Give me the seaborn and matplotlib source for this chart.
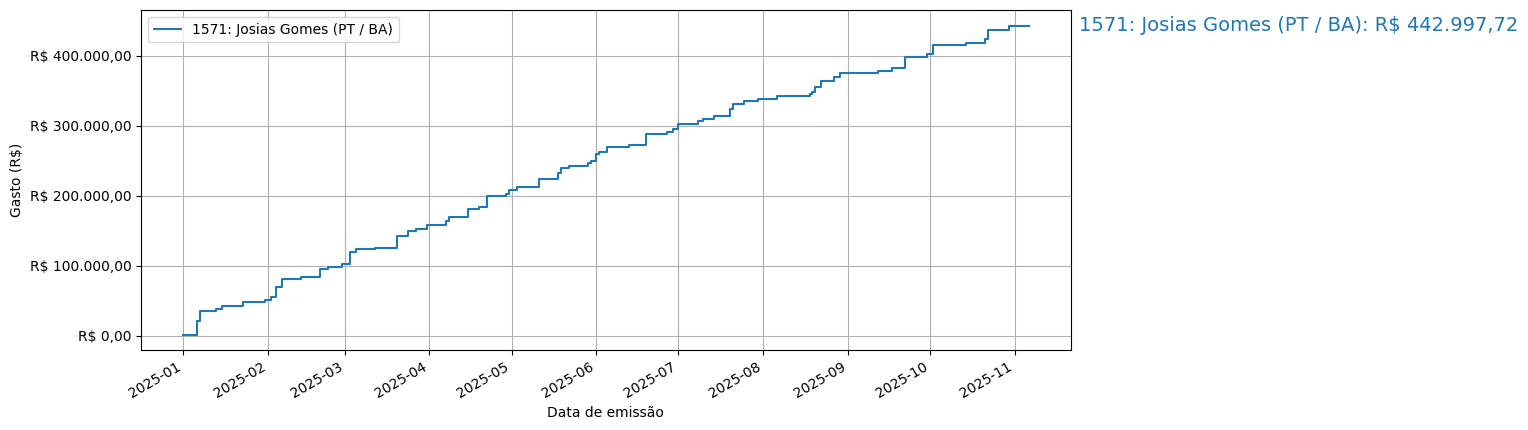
import pandas as pd
import matplotlib
matplotlib.use("Agg")
import matplotlib.pyplot as plt
import matplotlib.dates as mdates
from matplotlib.ticker import FuncFormatter
import seaborn as sns

deputado = "1571: Josias Gomes (PT / BA)"

# datas de emissão (degraus) e gasto acumulado em R$
datas = [
    "2025-01-01", "2025-01-06", "2025-01-07", "2025-01-13", "2025-01-15",
    "2025-01-23", "2025-01-31", "2025-02-02", "2025-02-04", "2025-02-06",
    "2025-02-13", "2025-02-20", "2025-02-23", "2025-02-28", "2025-03-03",
    "2025-03-05", "2025-03-12", "2025-03-20", "2025-03-24", "2025-03-27",
    "2025-03-31", "2025-04-07", "2025-04-08", "2025-04-15", "2025-04-19",
    "2025-04-22", "2025-04-29", "2025-04-30", "2025-05-03", "2025-05-11",
    "2025-05-18", "2025-05-19", "2025-05-22", "2025-05-29", "2025-05-30",
    "2025-06-01", "2025-06-02", "2025-06-05", "2025-06-13", "2025-06-19",
    "2025-06-27", "2025-06-29", "2025-07-01", "2025-07-08", "2025-07-10",
    "2025-07-14", "2025-07-20", "2025-07-21", "2025-07-25", "2025-07-30",
    "2025-08-06", "2025-08-18", "2025-08-19", "2025-08-20", "2025-08-22",
    "2025-08-27", "2025-08-29", "2025-09-12", "2025-09-17", "2025-09-22",
    "2025-09-30", "2025-10-02", "2025-10-14", "2025-10-21", "2025-10-22",
    "2025-10-30", "2025-11-06",
]
gasto_acumulado = [
    1900, 21000, 35000, 38000, 43000,
    49000, 52000, 55000, 70000, 81000,
    84000, 95000, 98000, 103000, 120000,
    124000, 126000, 143000, 150000, 152000,
    159000, 164000, 169500, 181000, 184000,
    199500, 203000, 208600, 213000, 224000,
    232000, 240000, 242000, 246700, 250000,
    260000, 263000, 269500, 273000, 288000,
    291000, 296000, 302000, 306700, 310000,
    314000, 324000, 331000, 335000, 339000,
    342000, 345700, 348000, 355000, 364000,
    369500, 375000, 378000, 382000, 398000,
    403000, 415000, 419000, 424000, 437600,
    442997.72, 442997.72,
]

df = pd.DataFrame({"Data": pd.to_datetime(datas), "Gasto": gasto_acumulado})


def brl(v, pos=None):
    s = f"{v:,.2f}".replace(",", "X").replace(".", ",").replace("X", ".")
    return f"R$ {s}"


fig, ax = plt.subplots(figsize=(15.28, 4.3), dpi=100)
fig.subplots_adjust(left=0.0923, right=0.7008, top=0.976, bottom=0.186)

sns.lineplot(x="Data", y="Gasto", data=df, drawstyle="steps-post",
             label=deputado, ax=ax, color="C0")

total = gasto_acumulado[-1]
ax.annotate(f"{deputado}: {brl(total)}", xy=(1, total),
            xycoords=("axes fraction", "data"), xytext=(6, 0),
            textcoords="offset points", va="center", ha="left",
            fontsize=14, color="C0")

ax.yaxis.set_major_formatter(FuncFormatter(brl))
ax.xaxis.set_major_locator(mdates.MonthLocator())
ax.xaxis.set_major_formatter(mdates.DateFormatter("%Y-%m"))
ax.set_xlabel("Data de emissão")
ax.set_ylabel("Gasto (R$)")
ax.grid(True)
ax.legend(loc="upper left")
plt.setp(ax.get_xticklabels(), rotation=30, ha="right")

fig.savefig("out.png", dpi=100)
